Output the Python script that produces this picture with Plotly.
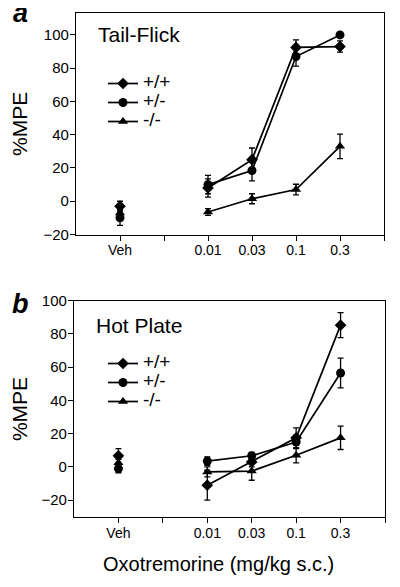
import plotly.graph_objects as go

# ---------------- data ----------------
categories = ["Veh", " ", "0.01", "0.03", "0.1", "0.3", "  "]
veh = ["Veh"]
doses = ["0.01", "0.03", "0.1", "0.3"]
genotypes = ["+/+", "+/-", "-/-"]

# Tail-Flick (panel a)
tf_veh = [-3, -10, -7]
tf_veh_err = [3, 4.5, 2]
tf_wt = [8, 25, 92.5, 93]
tf_wt_err = [5.5, 7, 4.5, 3.4]
tf_het = [10, 18.5, 87, 100]
tf_het_err = [5.5, 6.2, 5.8, 1]
tf_ko = [-6.5, 1.5, 7, 33]
tf_ko_err = [2, 3, 3.2, 7.4]

# Hot Plate (panel b)
hp_veh = [6.7, -1, 2.5]
hp_veh_err = [4.3, 2.5, 2]
hp_wt = [-11, 3, 17.5, 85.3]
hp_wt_err = [9, 3, 6, 7.5]
hp_het = [3.5, 6.7, 15, 56.5]
hp_het_err = [2.5, 2, 4, 9]
hp_ko = [-3, -2.5, 7, 17.5]
hp_ko_err = [3, 5.5, 4.5, 7]

symbols = ["diamond", "circle", "triangle-up"]

# page body has an 8px margin, so the figure is laid out in page pixels minus 8
OFF = 8
W, H = 400 - OFF, 587 - OFF
FONT = "Liberation Sans, Arial, Helvetica, sans-serif"

def px(x):
    return (x - OFF) / W

def py(y):
    return 1 - (y - OFF) / H

fig = go.Figure()

panels = [
    ("x", "y", "legend", tf_veh, tf_veh_err, [tf_wt, tf_het, tf_ko], [tf_wt_err, tf_het_err, tf_ko_err]),
    ("x2", "y2", "legend2", hp_veh, hp_veh_err, [hp_wt, hp_het, hp_ko], [hp_wt_err, hp_het_err, hp_ko_err]),
]

for xa, ya, leg, vv, ve, series, errs in panels:
    for i, g in enumerate(genotypes):
        # dose-response line
        fig.add_trace(go.Scatter(
            x=doses, y=series[i], xaxis=xa, yaxis=ya,
            mode="lines+markers", name='<span style="font-size:19px">' + g + "</span>",
            legend=leg,
            line=dict(color="black", width=1.7),
            marker=dict(symbol=symbols[i], size=9, color="black"),
            error_y=dict(type="data", array=errs[i], color="black", thickness=1.3, width=3),
        ))
    for i, g in enumerate(genotypes):
        # vehicle point
        fig.add_trace(go.Scatter(
            x=veh, y=[vv[i]], xaxis=xa, yaxis=ya,
            mode="markers", showlegend=False,
            marker=dict(symbol=symbols[i], size=9, color="black"),
            error_y=dict(type="data", array=[ve[i]], color="black", thickness=1.3, width=3),
        ))

axis_common = dict(
    showline=True, mirror=True, linecolor="black", linewidth=1.3,
    ticks="outside", ticklen=5, tickwidth=1.3, tickcolor="black",
    showgrid=False, zeroline=False, automargin=False,
)

xcommon = dict(axis_common, type="category", categoryorder="array",
               categoryarray=categories, range=[-1, 6], ticklabelstandoff=-2,
               tickfont=dict(family=FONT, size=14, color="black"))

ycommon = dict(axis_common, tickvals=[-20, 0, 20, 40, 60, 80, 100],
               ticklabelstandoff=-2,
               tickfont=dict(family=FONT, size=15, color="black"),
               title=dict(text="%MPE", font=dict(family=FONT, size=21), standoff=10))

fig.update_layout(
    width=W, height=H,
    margin=dict(l=0, r=0, t=0, b=0, autoexpand=False),
    paper_bgcolor="white", plot_bgcolor="white",
    font=dict(family=FONT, color="black"),
    xaxis=dict(xcommon, domain=[px(76), px(384)], anchor="y"),
    yaxis=dict(ycommon, domain=[py(234.5), py(13.3)], anchor="x", range=[-20, 113]),
    xaxis2=dict(xcommon, domain=[px(74), px(385)], anchor="y2"),
    yaxis2=dict(ycommon, domain=[py(517.3), py(300.7)], anchor="x2", range=[-30.3, 100]),
    legend=dict(x=px(103), y=py(69), xanchor="left", yanchor="top",
                bgcolor="rgba(0,0,0,0)", borderwidth=0,
                font=dict(family=FONT, size=12, color="black")),
    legend2=dict(x=px(103), y=py(349), xanchor="left", yanchor="top",
                 bgcolor="rgba(0,0,0,0)", borderwidth=0,
                 font=dict(family=FONT, size=12, color="black")),
    annotations=[
        dict(text="Tail-Flick", x=px(96), y=py(34.5), xref="paper", yref="paper",
             xanchor="left", yanchor="middle", showarrow=False,
             font=dict(family=FONT, size=21, color="black")),
        dict(text="Hot Plate", x=px(94), y=py(325.2), xref="paper", yref="paper",
             xanchor="left", yanchor="middle", showarrow=False,
             font=dict(family=FONT, size=21, color="black")),
        dict(text="<b><i>a</i></b>", x=px(20), y=py(13.5), xref="paper", yref="paper",
             xanchor="center", yanchor="middle", showarrow=False,
             font=dict(family=FONT, size=27, color="black")),
        dict(text="<b><i>b</i></b>", x=px(20), y=py(303.8), xref="paper", yref="paper",
             xanchor="center", yanchor="middle", showarrow=False,
             font=dict(family=FONT, size=27, color="black")),
        dict(text="Oxotremorine (mg/kg s.c.)", x=px(218.5), y=py(563.7),
             xref="paper", yref="paper", xanchor="center", yanchor="middle",
             showarrow=False, font=dict(family=FONT, size=20, color="black")),
    ],
)

fig.write_html("out.html")
